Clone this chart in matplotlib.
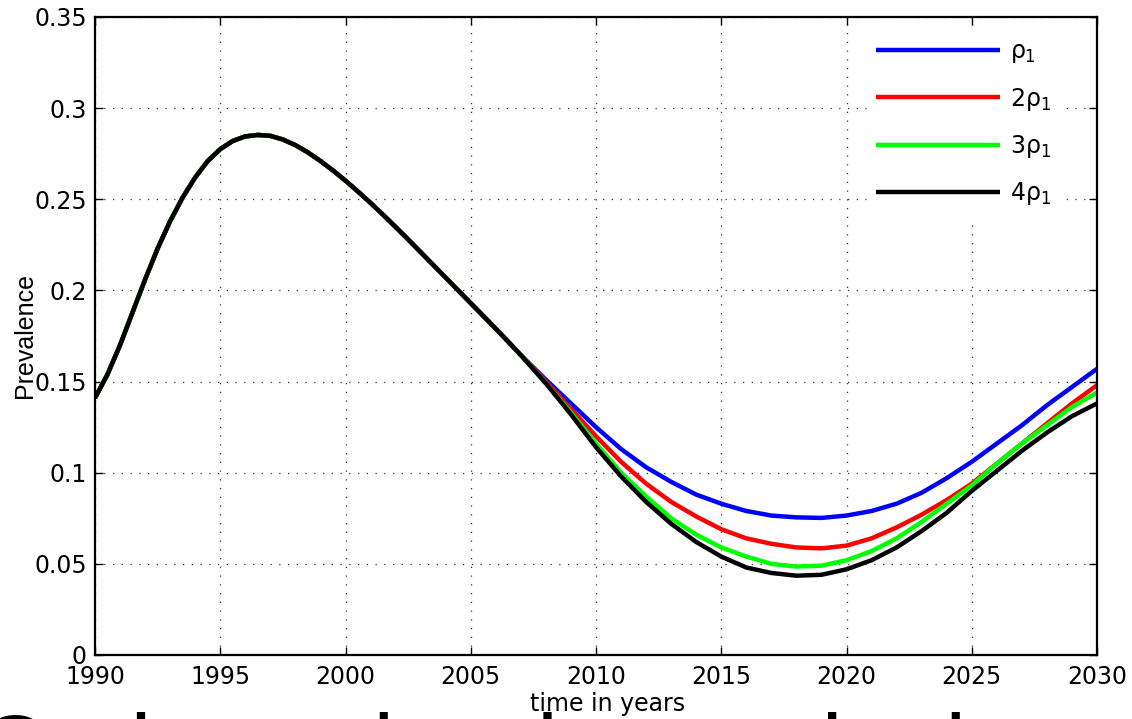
import matplotlib.pyplot as plt
import numpy as np

plt.rcParams['font.family'] = ['DejaVu Sans']
plt.rcParams['mathtext.fontset'] = 'custom'
plt.rcParams['mathtext.rm'] = 'DejaVu Sans'
plt.rcParams['mathtext.it'] = 'DejaVu Sans'

# shared part of the trajectory (1990-2007, half-year steps), same for every rho value
common_years = np.arange(1990, 2007.5, 0.5)
common = [0.141, 0.154, 0.170, 0.188, 0.206, 0.223, 0.238, 0.251, 0.262, 0.271,
          0.2775, 0.2820, 0.2845, 0.2853, 0.2848, 0.2828, 0.2797, 0.2757, 0.2710, 0.2658,
          0.2602, 0.2542, 0.2480, 0.2415, 0.2348, 0.2280, 0.2210, 0.2140, 0.2070, 0.2000,
          0.1930, 0.1860, 0.1790, 0.1718, 0.1645]

# 2008-2030, yearly, for each treatment rate
tail_years = np.arange(2008, 2031)
tail_rho1 = [0.151, 0.138, 0.125, 0.113, 0.103, 0.095, 0.088, 0.083, 0.079, 0.0765,
             0.0755, 0.0752, 0.0765, 0.079, 0.083, 0.089, 0.097, 0.106, 0.116, 0.126,
             0.137, 0.147, 0.157]
tail_rho2 = [0.150, 0.135, 0.120, 0.106, 0.094, 0.084, 0.076, 0.069, 0.064, 0.061,
             0.059, 0.0585, 0.060, 0.064, 0.070, 0.077, 0.085, 0.094, 0.105, 0.116,
             0.127, 0.138, 0.148]
tail_rho3 = [0.149, 0.133, 0.116, 0.100, 0.087, 0.075, 0.066, 0.059, 0.054, 0.050,
             0.0485, 0.049, 0.052, 0.057, 0.064, 0.073, 0.083, 0.093, 0.105, 0.116,
             0.126, 0.136, 0.144]
tail_rho4 = [0.149, 0.132, 0.114, 0.098, 0.084, 0.072, 0.062, 0.054, 0.048, 0.045,
             0.0435, 0.044, 0.047, 0.052, 0.059, 0.068, 0.078, 0.090, 0.101, 0.112,
             0.122, 0.131, 0.138]

labels = [r'$\rho_1$', r'$2\rho_1$', r'$3\rho_1$', r'$4\rho_1$']
colors = ['#0000ff', '#ff0000', '#00ff00', '#000000']

fig = plt.figure(figsize=(11.32, 7.19), dpi=100)
ax = fig.add_axes([95 / 1132, 64 / 719, 1002 / 1132, 638 / 719])

years = np.concatenate([common_years, tail_years])
for tail, lab, col in zip([tail_rho1, tail_rho2, tail_rho3, tail_rho4], labels, colors):
    ax.plot(years, common + tail, color=col, lw=3.2, label=lab, solid_capstyle='butt')

ax.set_xlim(1990, 2030)
ax.set_ylim(0, 0.35)
ax.set_xticks(range(1990, 2031, 5))
ax.set_yticks([0, 0.05, 0.1, 0.15, 0.2, 0.25, 0.3, 0.35])
ax.set_yticklabels(['0', '0.05', '0.1', '0.15', '0.2', '0.25', '0.3', '0.35'])

ax.grid(True, color='#333333', linestyle=(0, (1, 6)), linewidth=0.9)
ax.tick_params(direction='in', length=6, width=1, top=True, right=True,
               labelsize=17)
ax.tick_params(axis='x', pad=7)
ax.tick_params(axis='y', pad=6)
for sp in ax.spines.values():
    sp.set_linewidth(1.6)

ax.set_xlabel('time in years', fontsize=17)
ax.xaxis.set_label_coords((608 - 95) / 1002, -0.058)
ax.set_ylabel('Prevalence', fontsize=18, family='Liberation Sans')
ax.yaxis.set_label_coords(-0.058, 0.5)

leg = ax.legend(loc='upper left', bbox_to_anchor=(0.770, 0.98), fontsize=17,
                handlelength=5.25, handletextpad=0.42, labelspacing=0.86,
                frameon=True, fancybox=False, edgecolor='white', facecolor='white',
                framealpha=1, borderaxespad=0, borderpad=0.4)

# running caption text below the figure, only its top edge shows
caption_words = [('Cod', -22), ('are', 183), ('the', 348), ('by', 537),
                 ('do', 790), ('the', 920)]
for word, px in caption_words:
    fig.text(px / 1132, -62 / 719, word, fontsize=68, va='baseline', ha='left',
             family='Liberation Sans')

fig.savefig('out.png', dpi=100)
